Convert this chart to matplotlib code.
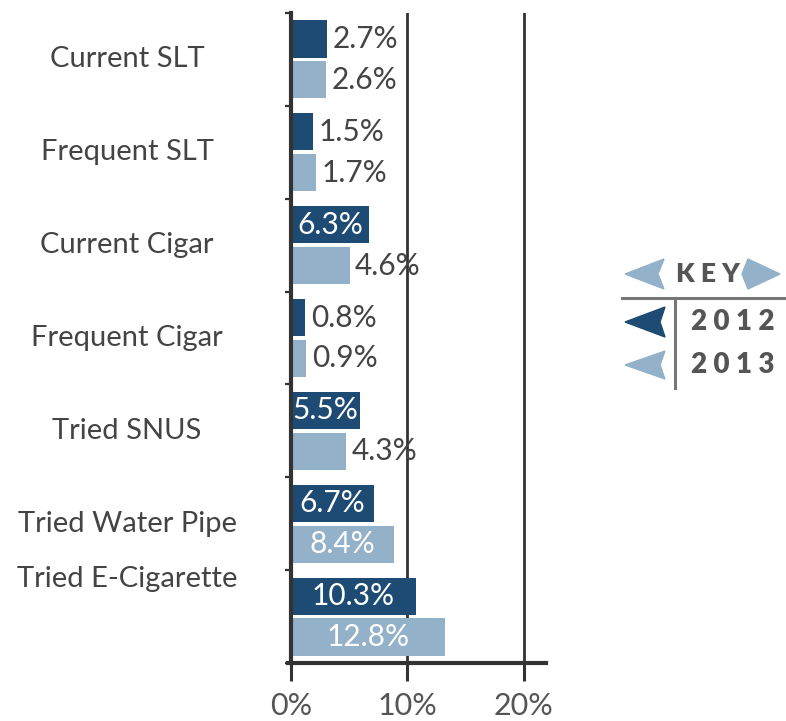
import matplotlib.pyplot as plt
from matplotlib.patches import Polygon
from matplotlib.transforms import blended_transform_factory, ScaledTranslation

categories = ["Current SLT", "Frequent SLT", "Current Cigar", "Frequent Cigar",
              "Tried SNUS", "Tried Water Pipe", "Tried E-Cigarette"]
vals_2012 = [2.7, 1.5, 6.3, 0.8, 5.5, 6.7, 10.3]
vals_2013 = [2.6, 1.7, 4.6, 0.9, 4.3, 8.4, 12.8]
years = ["2012", "2013"]
xticks = [0, 10, 20]

DARK = "#1e4b73"
LIGHT = "#93b1c8"
TXT = "#444444"
AX = "#333333"


def main():
    plt.rcParams['font.family'] = ['Lato', 'DejaVu Sans']
    fig = plt.figure(figsize=(7.86, 7.21), dpi=100)
    W, H = 786, 721
    ax = fig.add_axes([291 / W, 1 - 663 / H, 255 / W, 650 / H])

    n = len(categories)
    ys = list(range(n))
    h = 0.4
    off = 0.22
    # in the original the bars run a few pixels past their value
    shift = ScaledTranslation(5 / 100, 0, fig.dpi_scale_trans)
    pad = 0.5
    for vals, sign, col in ((vals_2012, -1, DARK), (vals_2013, 1, LIGHT)):
        bars = ax.barh([y + sign * off for y in ys], [v + pad for v in vals],
                       left=-pad, height=h, color=col, linewidth=0)
        for b in bars:
            b.set_transform(ax.transData + shift)
        # value labels: inside (white) when the bar is wide enough
        for y, v in zip(ys, vals):
            yy = y + sign * off
            txt = f"{v}%"
            if v >= 5.5:
                ax.text(v / 2 + 0.2, yy, txt, ha="center", va="center",
                        color="white", fontsize=21.5)
            else:
                ax.text(v + 0.9, yy, txt, ha="left", va="center", color=TXT,
                        fontsize=21.5)

    # category labels
    tr = blended_transform_factory(ax.transAxes, ax.transData)
    for y, c in zip(ys, categories):
        yy = y - 0.4 if c == "Tried E-Cigarette" else y
        ax.text(-0.643, yy, c, transform=tr, ha="center", va="center",
                color=TXT, fontsize=21)

    for x in xticks[1:]:
        ax.axvline(x, color=AX, lw=2, zorder=0)

    ax.set_xlim(0, 21.9)
    ax.set_ylim(n - 0.5, -0.5)
    ax.set_xticks(xticks)
    ax.set_xticklabels([f"{x}%" for x in xticks])
    ax.set_yticks([y - 0.5 for y in ys] + [n - 0.5])
    ax.set_yticklabels([])
    ax.tick_params(axis="x", length=13, width=2.2, color=AX, pad=8,
                   labelsize=22, labelcolor="#555555")
    ax.tick_params(axis="y", length=4, width=1.6, color=AX)
    for s in ("top", "right"):
        ax.spines[s].set_visible(False)
    ax.spines["left"].set_linewidth(3)
    ax.spines["left"].set_color(AX)
    ax.spines["left"].set_zorder(5)
    ax.spines["bottom"].set_linewidth(3)
    ax.spines["bottom"].set_color(AX)
    ax.spines["bottom"].set_bounds(-0.3, 21.9)

    # key panel (figure pixel coordinates)
    def px(x, y):
        return (x / W, 1 - y / H)

    def chevron(tipx, cy, backx, half, notch, color):
        d = 1 if backx > tipx else -1
        pts = [px(tipx, cy), px(backx, cy - half), px(backx - d * notch, cy),
               px(backx, cy + half)]
        fig.patches.append(Polygon(pts, closed=True, color=color,
                                   transform=fig.transFigure))

    chevron(625, 274, 664, 15, 6, LIGHT)
    chevron(780, 274, 748, 15, -6, LIGHT)
    chevron(625, 322, 665, 15, 5, DARK)
    chevron(625, 365, 665, 14, 5, LIGHT)

    fig.text(*px(708, 274), "K E Y", ha="center", va="center", color="#555555",
             fontsize=19, fontweight="heavy")
    for yr, cy in zip(years, (322, 365)):
        fig.text(*px(733, cy), " ".join(yr), ha="center",
                 va="center", color="#555555", fontsize=20, fontweight="heavy")
    fig.add_artist(plt.Line2D([622 / W, 786 / W], [1 - 298 / H] * 2,
                              color="#777777", lw=2.2, transform=fig.transFigure))
    fig.add_artist(plt.Line2D([675 / W] * 2, [1 - 298 / H, 1 - 388 / H],
                              color="#777777", lw=2.2, transform=fig.transFigure))

    fig.savefig("out.png", dpi=100)


if __name__ == "__main__":
    main()
